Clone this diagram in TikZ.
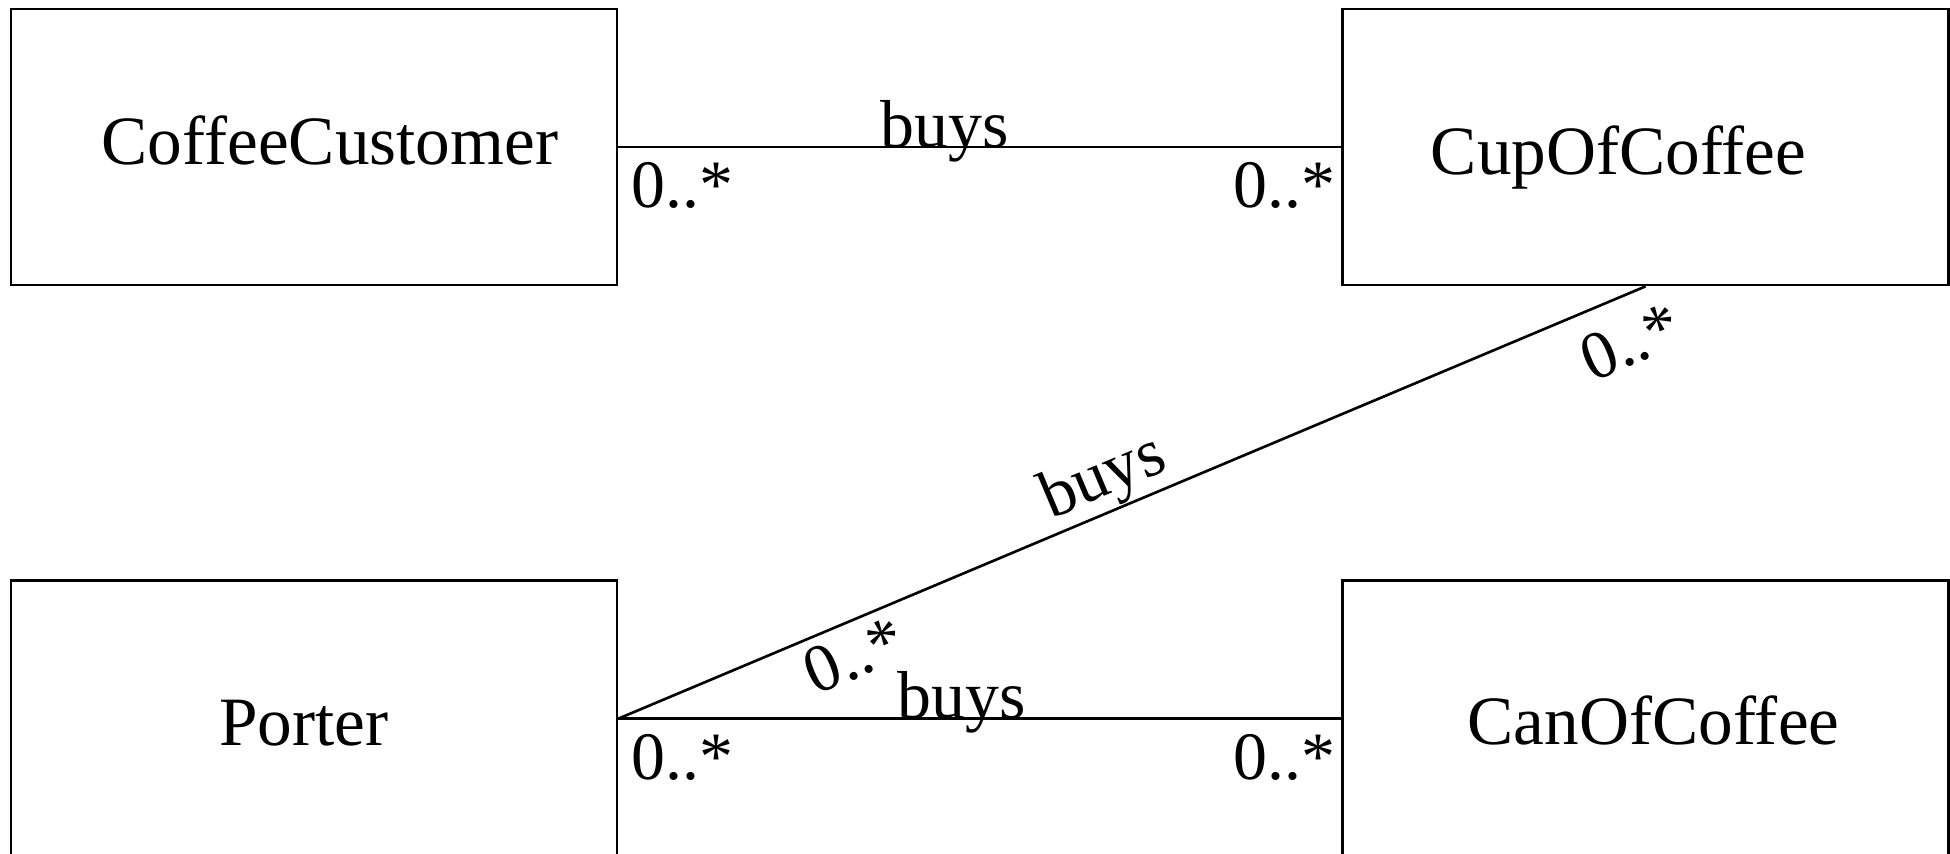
\documentclass[tikz,border=0pt]{standalone}
\usepackage{fontspec}
\setmainfont{Liberation Serif}
\usetikzlibrary{
    positioning,                      % right=of, below=of, etc.
    calc                              % aritmetica de coordenadas
}
\tikzset{
    clase/.style={
        rectangle, draw, line width=0.75pt,
        minimum width=60.6mm, minimum height=27.6mm,
        inner sep=0pt
    },
    nombre/.style={
        anchor=base, inner sep=0pt,
        font=\fontsize{19.7}{23}\selectfont
    },
    asociacion/.style={
        line width=0.75pt
    },
    mult/.style={
        inner sep=4pt
    },
    rol/.style={
        inner sep=0pt, anchor=base
    }
}

\begin{document}
\begin{tikzpicture}[
        node distance=29.3mm and 72.3mm,
        every node/.style={font=\fontsize{19.3}{23}\selectfont}
    ]
        \useasboundingbox (0,0) rectangle (19.5,-8.53);

        % --- Clases ---
        \node[clase] (customer) at (3.14,-1.47) {};
        \node[clase, right=of customer] (cup) {};
        \node[clase, below=of customer] (porter) {};
        \node[clase, below=of cup] (can) {};

        % Nombres de las clases (linea base bajo el centro)
        \node[nombre] (customer_txt) at ($(customer.center)+(1.6mm,-1.7mm)$) {CoffeeCustomer};
        \node[nombre] (cup_txt) at ($(cup.center)+(-2.7mm,-2.7mm)$) {CupOfCoffee};
        \node[nombre] (porter_txt) at ($(porter.center)+(-1mm,-2.7mm)$) {Porter};
        \node[nombre] (can_txt) at ($(can.center)+(0.8mm,-2.6mm)$) {CanOfCoffee};

        % --- Asociaciones horizontales ---
        \draw[asociacion] (customer.east) -- (cup.west)
            node[rol, pos=0.451] {buys}
            node[mult, pos=0, anchor=north west, xshift=-0.25mm] {0..*}
            node[mult, pos=1, anchor=north east, xshift=0.9mm] {0..*};
        \draw[asociacion] (porter.east) -- (can.west)
            node[rol, pos=0.4745] {buys}
            node[mult, pos=0, anchor=north west, xshift=-0.25mm] {0..*}
            node[mult, pos=1, anchor=north east, xshift=0.9mm] {0..*};

        % Diagonal: Porter compra tambien tazas
        \draw[asociacion] (porter.east) -- (cup.south)
            node[pos=0.485, sloped, anchor=south, inner sep=0pt] {buys}
            node[pos=0.217, sloped, anchor=north, inner sep=2.5pt] {0..*}
            node[pos=0.968, sloped, anchor=north, inner sep=6pt] {0..*};

    \end{tikzpicture}
\end{document}
